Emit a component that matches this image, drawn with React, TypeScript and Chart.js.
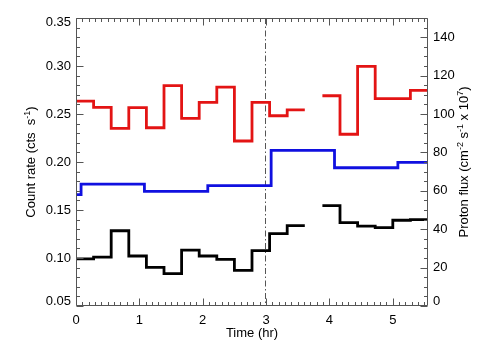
import React, { useEffect, useRef } from 'react';
import { Chart, registerables } from 'chart.js';

Chart.register(...registerables);

// ---- data ----
const BIN_HOURS = 1000 / 3600; // 1000 s bins
const TIME_MAX = 20 * BIN_HOURS;

const redRate: (number | null)[] = [
  0.2635, 0.257, 0.235, 0.2566, 0.2357, 0.2795, 0.2455, 0.2622, 0.278, 0.2219,
  0.2622, 0.2482, 0.2542, null, 0.269, 0.2289, 0.2997, 0.266, 0.266, 0.2747,
];
const blackRate: (number | null)[] = [
  0.099, 0.101, 0.1284, 0.1021, 0.0903, 0.0837, 0.1083, 0.1021, 0.0986, 0.0872,
  0.1076, 0.1253, 0.1337, null, 0.1545, 0.1368, 0.1333, 0.1316, 0.1393, 0.1399,
];
const protonStart = [0, 0.08, 1.08, 2.08, 3.08, 4.08, 5.08];
const protonFlux = [58.0, 63.5, 59.7, 62.7, 81.1, 72.0, 74.8];

const timeTicks = [0, 1, 2, 3, 4, 5];
const rateTicks = [0.05, 0.1, 0.15, 0.2, 0.25, 0.3, 0.35];
const fluxTicks = [0, 20, 40, 60, 80, 100, 120, 140];
const markerTime = 3.0;

const FONT = '"Liberation Sans", Arial, Helvetica, sans-serif';

function binSteps(vals: (number | null)[]) {
  const pts: { x: number; y: number | null }[] = [];
  vals.forEach((v, i) => {
    if (v == null) {
      pts.push({ x: i * BIN_HOURS, y: null });
      return;
    }
    pts.push({ x: i * BIN_HOURS, y: v });
    const next = vals[i + 1];
    if (next == null) pts.push({ x: (i + 1) * BIN_HOURS, y: v });
  });
  return pts;
}

function fluxSteps() {
  const pts = protonStart.map((t, i) => ({ x: t, y: protonFlux[i] }));
  pts.push({ x: TIME_MAX, y: protonFlux[protonFlux.length - 1] });
  return pts;
}

function drawRich(ctx: CanvasRenderingContext2D, segs: [string, boolean][], cx: number, cy: number) {
  const big = `13px ${FONT}`;
  const small = `9px ${FONT}`;
  let total = 0;
  segs.forEach(([t, sup]) => {
    ctx.font = sup ? small : big;
    total += ctx.measureText(t).width;
  });
  ctx.save();
  ctx.translate(cx, cy);
  ctx.rotate(-Math.PI / 2);
  ctx.fillStyle = '#000';
  ctx.textAlign = 'left';
  ctx.textBaseline = 'alphabetic';
  let x = -total / 2;
  segs.forEach(([t, sup]) => {
    ctx.font = sup ? small : big;
    ctx.fillText(t, x, sup ? -5 : 0);
    x += ctx.measureText(t).width;
  });
  ctx.restore();
}

const decor = {
  id: 'decor',
  beforeDatasetsDraw(chart: any) {
    const { ctx, chartArea } = chart;
    const x = Math.round(chart.scales.x.getPixelForValue(markerTime)) - 0.5;
    ctx.save();
    ctx.strokeStyle = '#555';
    ctx.lineWidth = 1;
    ctx.setLineDash([6, 2.5, 1.5, 2.5]);
    ctx.beginPath();
    ctx.moveTo(x, chartArea.top);
    ctx.lineTo(x, chartArea.bottom);
    ctx.stroke();
    ctx.restore();
  },
  afterDraw(chart: any) {
    const { ctx, chartArea } = chart;
    const { left, right, top, bottom } = chartArea;
    const xs = chart.scales.x;
    const yl = chart.scales.y;
    const yr = chart.scales.y1;
    const L = Math.floor(left) + 0.5;
    const R = Math.floor(right) - 0.5;
    const T = Math.floor(top) + 0.5;
    const B = Math.floor(bottom) - 0.5;
    ctx.save();
    ctx.strokeStyle = '#555';
    ctx.lineWidth = 1;
    ctx.beginPath();
    ctx.rect(L, T, R - L, B - T);
    ctx.stroke();
    const MAJ = 7;
    const MIN = 3.5;
    ctx.beginPath();
    // x ticks (bottom and top)
    for (let k = 0; k * 0.1 <= TIME_MAX + 1e-9; k++) {
      const v = k * 0.1;
      const len = k % 10 === 0 ? MAJ : MIN;
      const px = Math.round(xs.getPixelForValue(v)) + 0.5;
      ctx.moveTo(px, B);
      ctx.lineTo(px, B - len);
      ctx.moveTo(px, T);
      ctx.lineTo(px, T + len);
    }
    // left ticks
    for (let k = 5; k <= 35; k++) {
      const v = k * 0.01;
      const len = k % 5 === 0 ? MAJ : MIN;
      const py = Math.round(yl.getPixelForValue(v)) + 0.5;
      ctx.moveTo(L, py);
      ctx.lineTo(L + len, py);
    }
    // right ticks
    for (let k = 0; k <= 30; k++) {
      const v = k * 5;
      const len = v % 20 === 0 ? MAJ : MIN;
      const py = Math.round(yr.getPixelForValue(v)) + 0.5;
      ctx.moveTo(R, py);
      ctx.lineTo(R - len, py);
    }
    ctx.stroke();

    // y tick labels
    ctx.fillStyle = '#000';
    ctx.font = `13px ${FONT}`;
    ctx.textBaseline = 'middle';
    ctx.textAlign = 'right';
    const clamp = (p: number) => Math.min(Math.max(p, top + 4.5), bottom - 4.5);
    rateTicks.forEach((v) => {
      ctx.fillText(v.toFixed(2), left - 5, clamp(yl.getPixelForValue(v)));
    });
    ctx.textAlign = 'left';
    fluxTicks.forEach((v) => {
      ctx.fillText(String(v), right + 5, clamp(yr.getPixelForValue(v)));
    });
    ctx.restore();

    const cy = (top + bottom) / 2;
    drawRich(ctx, [['Count rate (cts  s', false], ['-1', true], [')', false]], 35, cy);
    drawRich(
      ctx,
      [
        ['Proton flux (cm', false],
        ['-2', true],
        [' s', false],
        ['-1', true],
        [' x 10', false],
        ['7', true],
        [')', false],
      ],
      468,
      cy
    );
  },
};

export default function App() {
  const ref = useRef<HTMLCanvasElement>(null);
  useEffect(() => {
    const lineCommon = {
      stepped: true as const,
      pointRadius: 0,
      borderWidth: 2.8,
      fill: false,
      spanGaps: false,
      tension: 0,
      borderJoinStyle: 'miter' as const,
    };
    const chart = new Chart(ref.current as HTMLCanvasElement, {
      type: 'line',
      data: {
        datasets: [
          { ...lineCommon, data: binSteps(redRate) as any, borderColor: '#e31414', yAxisID: 'y' },
          { ...lineCommon, data: fluxSteps() as any, borderColor: '#1010e0', yAxisID: 'y1' },
          { ...lineCommon, data: binSteps(blackRate) as any, borderColor: '#000000', yAxisID: 'y' },
        ],
      },
      options: {
        responsive: false,
        animation: false,
        layout: { padding: { top: 18, left: 0, right: 0, bottom: 0 } },
        plugins: { legend: { display: false }, tooltip: { enabled: false } },
        scales: {
          x: {
            type: 'linear',
            min: 0,
            max: TIME_MAX,
            afterBuildTicks: (s: any) => {
              s.ticks = timeTicks.map((v) => ({ value: v }));
            },
            afterFit: (s: any) => {
              s.height = 54;
            },
            ticks: {
              callback: (v: any) => String(v),
              font: { family: FONT, size: 13 },
              color: '#000',
              padding: 7,
              maxRotation: 0,
              autoSkip: false,
            },
            grid: { display: false, drawTicks: false },
            border: { display: false },
            title: {
              display: true,
              text: 'Time (hr)',
              color: '#000',
              font: { family: FONT, size: 13 },
              padding: { top: 0, bottom: 19 },
            },
          },
          y: {
            type: 'linear',
            position: 'left',
            min: 0.05,
            max: 0.35,
            afterBuildTicks: (s: any) => {
              s.ticks = rateTicks.map((v) => ({ value: v }));
            },
            afterFit: (s: any) => {
              s.width = 76;
            },
            ticks: { display: false },
            grid: { display: false, drawTicks: false },
            border: { display: false },
          },
          y1: {
            type: 'linear',
            position: 'right',
            min: 0,
            max: 150,
            afterBuildTicks: (s: any) => {
              s.ticks = fluxTicks.map((v) => ({ value: v }));
            },
            afterFit: (s: any) => {
              s.width = 76;
            },
            ticks: { display: false },
            grid: { display: false, drawTicks: false },
            border: { display: false },
          },
        },
      },
      plugins: [decor],
    });
    return () => chart.destroy();
  }, []);
  return (
    <div style={{ position: 'absolute', left: 0, top: 0, width: 504, height: 360, background: '#fff' }}>
      <canvas ref={ref} width={504} height={360} style={{ display: 'block' }} />
    </div>
  );
}
